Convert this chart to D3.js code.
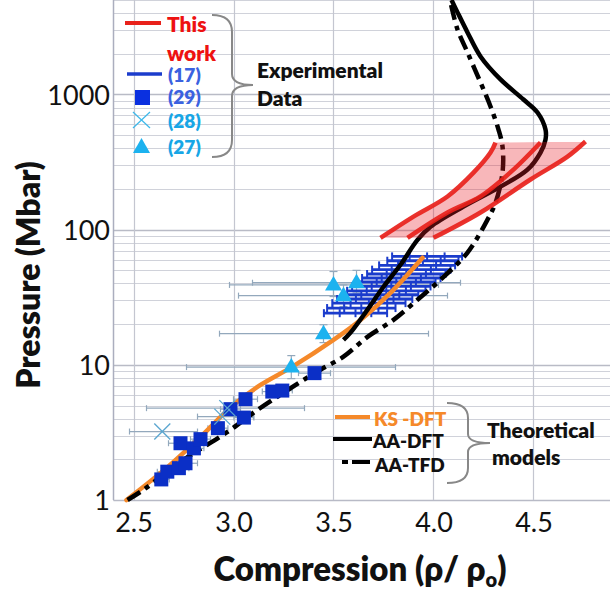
<!DOCTYPE html>
<html><head><meta charset="utf-8">
<script src="https://cdn.jsdelivr.net/npm/d3@7"></script>
<style>body{margin:0;background:#fff}svg{display:block}text{font-family:Lato,"Open Sans",sans-serif}</style>
</head><body>
<svg id="chart" width="610" height="592"></svg>
<script>
// ---- data ----
const xTicks = [2.5, 3.0, 3.5, 4.0, 4.5];
const yTicks = [1, 10, 100, 1000];

const ksV = [2.465, 2.67, 2.835, 3.0, 3.135, 3.295, 3.5, 3.635, 3.785, 3.945];
const ksP = [1.0, 1.75, 2.93, 5.06, 7.1, 9.7, 15.3, 21.5, 34.1, 62];

const aaDftV = [3.55, 3.585, 3.67, 3.75, 3.835, 3.92, 3.985, 4.15, 4.335, 4.47, 4.535, 4.56, 4.56, 4.52, 4.45, 4.335, 4.235, 4.17, 4.12, 4.09];
const aaDftP = [15.3, 17.3, 25.6, 37.8, 55, 84, 105, 148, 208, 278, 372, 464, 550, 736, 918, 1292, 1911, 2878, 4050, 5000];

const aaTfdV = [2.47, 2.55, 2.75, 2.97, 3.12, 3.335, 3.435, 3.55, 3.67, 3.80, 3.92, 4.035, 4.17, 4.27, 4.31, 4.345, 4.345, 4.325, 4.285, 4.235, 4.17, 4.12, 4.085];
const aaTfdP = [1, 1.19, 1.98, 3.19, 4.64, 7.48, 9.2, 11.5, 16.1, 21.5, 30.3, 42.6, 67.6, 118.6, 158, 264, 412, 550, 815, 1227, 2047, 3030, 4800];

// This work: three curves bounding a band
const twLeftV = [3.735, 3.9, 4.07, 4.2, 4.285, 4.31];
const twLeftP = [87, 125, 176, 264, 372, 441];
const twMidV = [3.87, 4.07, 4.235, 4.4, 4.535];
const twMidP = [87, 134, 176, 278, 441];
const twRightV = [4.0, 4.235, 4.485, 4.67, 4.76];
const twRightP = [87, 134, 235, 347, 449];

// (17)
const s17V = [3.968, 3.947, 3.918, 3.889, 3.864, 3.839, 3.814, 3.789, 3.764, 3.734, 3.706, 3.677, 3.639, 3.61];
const s17P = [63.4, 58.9, 54.4, 50.6, 47, 43.9, 41, 38, 35.3, 33, 30.7, 28.6, 26.3, 24.1];
const s17Xerr = [0.175, 0.178, 0.19, 0.196, 0.196, 0.196, 0.196, 0.196, 0.196, 0.19, 0.188, 0.183, 0.171, 0.158];

// (29)
const s29V = [2.639, 2.669, 2.727, 2.76, 2.735, 2.802, 2.835, 2.922, 2.985, 3.052, 3.06, 3.194, 3.244, 3.405];
const s29P = [1.42, 1.62, 1.72, 1.87, 2.63, 2.41, 2.82, 3.40, 4.70, 4.07, 5.57, 6.34, 6.45, 8.68];
const s29Xerr = [0.04, 0.05, 0.05, 0.06, 0.06, 0.05, 0.05, 0.05, 0.05, 0.05, 0.06, 0.05, 0.05, 0.08];

// (28)
const s28V = [2.644, 2.944, 2.969];
const s28P = [3.21, 4.14, 4.78];
const s28Xlo = [2.48, 2.82, 2.565];
const s28Xhi = [2.82, 3.10, 3.355];

// (27)
const s27V = [3.289, 3.45, 3.5, 3.55, 3.615];
const s27P = [9.62, 17.0, 39, 32.5, 40.5];
const s27Xlo = [2.765, 2.93, 2.98, 3.025, 3.095];
const s27Xhi = [3.81, 3.975, 4.025, 4.07, 4.135];
const s27Plo = [7.9, 14.6, 32, 27, 34];
const s27Phi = [11.7, 19.8, 49, 39, 50];

// ---- scales ----
const svg = d3.select('#chart');
const x = d3.scaleLinear().domain([2.4, 4.9]).range([113.5, 613.5]);
const y = d3.scaleLog().domain([1, 5000]).range([500, 0]);

const RED = '#e8211b', ORANGE = '#f5892a', BLUE = '#1b3ccc', SQ = '#0b2fc6', CYAN = '#1cb2ef', XC = '#5aa6d0', EB = '#93a8bc';
const BOLD = 800;

// grid
const g = svg.append('g');
const minor = [];
for (let d = 1; d <= 1000; d *= 10) for (let k = 1; k <= 9; k++) { const v = d * k; if (v <= 5000) minor.push(v); }
g.selectAll('line.h').data(minor).join('line')
  .attr('x1', 113.5).attr('x2', 610).attr('y1', d => Math.round(y(d)) + 0.5).attr('y2', d => Math.round(y(d)) + 0.5)
  .attr('stroke', d => yTicks.includes(d) ? '#b9bbc6' : '#d0d2da').attr('stroke-width', d => yTicks.includes(d) ? 1.5 : 1);
g.selectAll('line.v').data(xTicks).join('line')
  .attr('x1', d => Math.round(x(d)) + 0.5).attr('x2', d => Math.round(x(d)) + 0.5).attr('y1', 0).attr('y2', 500)
  .attr('stroke', '#c4c6d0').attr('stroke-width', 1.2);
// axes lines
g.append('line').attr('x1', 113.5).attr('x2', 113.5).attr('y1', 0).attr('y2', 500).attr('stroke', '#abaebe').attr('stroke-width', 1.5);
g.append('line').attr('x1', 113.5).attr('x2', 610).attr('y1', 500.5).attr('y2', 500.5).attr('stroke', '#b8bac6').attr('stroke-width', 1.2);

// tick labels via axes
const xAxis = d3.axisBottom(x).tickValues(xTicks).tickFormat(d3.format('.1f')).tickSize(0).tickPadding(0);
const xa = svg.append('g').attr('transform', 'translate(0,500)').call(xAxis);
xa.select('.domain').remove();
xa.selectAll('text').attr('y', 32).attr('dy', 0).attr('font-size', 27).attr('fill', '#111').style('font-family', 'Lato,sans-serif');
const yAxis = d3.axisLeft(y).tickValues(yTicks).tickFormat(d3.format('d')).tickSize(0).tickPadding(0);
const ya = svg.append('g').attr('transform', 'translate(110,0)').call(yAxis);
ya.select('.domain').remove();
ya.selectAll('text').attr('x', 0).attr('dy', '0.36em').attr('font-size', 27).attr('fill', '#111').style('font-family', 'Lato,sans-serif');

// axis titles
svg.append('text').attr('transform', 'translate(40,275) rotate(-90)').attr('text-anchor', 'middle')
  .attr('font-size', 32).attr('font-weight', BOLD).attr('fill', '#111').text('Pressure (Mbar)');
const xt = svg.append('text').attr('x', 360).attr('y', 581).attr('text-anchor', 'middle')
  .attr('font-size', 33).attr('font-weight', BOLD).attr('fill', '#111');
xt.append('tspan').text('Compression (ρ/ ρ');
xt.append('tspan').attr('font-size', 20).attr('dy', 6).text('o');
xt.append('tspan').attr('dy', -6).text(')');

// error bars (gray)
const eb = svg.append('g').attr('stroke', EB).attr('stroke-width', 1.2).attr('fill', 'none');
function hbar(g, x1, x2, yy, cap) {
  g.append('line').attr('x1', x1).attr('x2', x2).attr('y1', yy).attr('y2', yy);
  g.append('line').attr('x1', x1).attr('x2', x1).attr('y1', yy - cap).attr('y2', yy + cap);
  g.append('line').attr('x1', x2).attr('x2', x2).attr('y1', yy - cap).attr('y2', yy + cap);
}
s27V.forEach((v, i) => {
  hbar(eb, x(s27Xlo[i]), x(s27Xhi[i]), y(s27P[i]), 3);
  eb.append('line').attr('x1', x(v)).attr('x2', x(v)).attr('y1', y(s27Plo[i])).attr('y2', y(s27Phi[i]));
  eb.append('line').attr('x1', x(v) - 4).attr('x2', x(v) + 4).attr('y1', y(s27Phi[i])).attr('y2', y(s27Phi[i]));
  eb.append('line').attr('x1', x(v) - 4).attr('x2', x(v) + 4).attr('y1', y(s27Plo[i])).attr('y2', y(s27Plo[i]));
});
s28V.forEach((v, i) => hbar(eb, x(s28Xlo[i]), x(s28Xhi[i]), y(s28P[i]), 3));
s29V.forEach((v, i) => hbar(eb, x(v - s29Xerr[i]), x(v + s29Xerr[i]), y(s29P[i]), 3));

// (17) stack
const st = svg.append('g').attr('stroke', BLUE).attr('fill', 'none');
s17V.forEach((v, i) => {
  const yy = y(s17P[i]), x1 = x(v - s17Xerr[i]), x2 = x(v + s17Xerr[i]);
  st.append('line').attr('x1', x1).attr('x2', x2).attr('y1', yy).attr('y2', yy).attr('stroke-width', 2.8);
  [x1, x2, x(v), x(v - s17Xerr[i] / 2), x(v + s17Xerr[i] / 2)].forEach(xx =>
    st.append('line').attr('x1', xx).attr('x2', xx).attr('y1', yy - 4).attr('y2', yy + 4).attr('stroke-width', 2));
});

// theory curves
const line = d3.line().x(d => x(d[0])).y(d => y(d[1])).curve(d3.curveCatmullRom.alpha(0.5));
const zip = (a, b) => a.map((v, i) => [v, b[i]]);
svg.append('path').attr('d', line(zip(ksV, ksP))).attr('stroke', ORANGE).attr('stroke-width', 4.5).attr('fill', 'none').attr('stroke-linecap', 'round');
svg.append('path').attr('d', line(zip(aaTfdV, aaTfdP))).attr('stroke', '#000').attr('stroke-width', 4.5).attr('fill', 'none').attr('stroke-dasharray', '15,6,5,6');
svg.append('path').attr('d', line(zip(aaDftV, aaDftP))).attr('stroke', '#000').attr('stroke-width', 4.5).attr('fill', 'none');

// this work band
const left = zip(twLeftV, twLeftP), mid = zip(twMidV, twMidP), right = zip(twRightV, twRightP);
const band = line(left) + 'L' + line(right.slice().reverse()).slice(1) + 'Z';
svg.append('path').attr('d', band).attr('fill', 'rgba(232,30,40,0.32)').attr('stroke', 'none');
[left, mid, right].forEach(c => svg.append('path').attr('d', line(c)).attr('stroke', RED).attr('stroke-width', 4.5).attr('fill', 'none').attr('stroke-opacity', 0.92));

// squares
svg.append('g').selectAll('rect').data(zip(s29V, s29P)).join('rect')
  .attr('x', d => x(d[0]) - 7).attr('y', d => y(d[1]) - 7).attr('width', 14).attr('height', 14).attr('fill', SQ);
// crosses
const cr = svg.append('g').attr('stroke', XC).attr('stroke-width', 1.3);
zip(s28V, s28P).forEach(d => {
  const cx = x(d[0]), cy = y(d[1]);
  cr.append('line').attr('x1', cx - 8).attr('x2', cx + 8).attr('y1', cy - 8).attr('y2', cy + 8);
  cr.append('line').attr('x1', cx - 8).attr('x2', cx + 8).attr('y1', cy + 8).attr('y2', cy - 8);
});
// triangles
svg.append('g').selectAll('path').data(zip(s27V, s27P)).join('path')
  .attr('d', d => { const cx = x(d[0]), cy = y(d[1]); return `M${cx},${cy - 9}L${cx + 8.5},${cy + 5.5}L${cx - 8.5},${cy + 5.5}Z`; })
  .attr('fill', CYAN);

// ---- legends ----
const L = svg.append('g');
L.append('line').attr('x1', 125).attr('x2', 161).attr('y1', 23).attr('y2', 23).attr('stroke', RED).attr('stroke-width', 4);
L.append('text').attr('x', 167).attr('y', 32).attr('font-size', 21).attr('font-weight', BOLD).attr('fill', '#ee1111').text('This');
L.append('text').attr('x', 167).attr('y', 61).attr('font-size', 21).attr('font-weight', BOLD).attr('fill', '#ee1111').text('work');
L.append('line').attr('x1', 127).attr('x2', 162).attr('y1', 74).attr('y2', 74).attr('stroke', BLUE).attr('stroke-width', 3.5);
L.append('rect').attr('x', 135).attr('y', 90).attr('width', 15).attr('height', 15).attr('fill', '#0a30e0');
L.append('line').attr('x1', 133).attr('x2', 150).attr('y1', 112).attr('y2', 128).attr('stroke', '#3cb8ea').attr('stroke-width', 1.2);
L.append('line').attr('x1', 133).attr('x2', 150).attr('y1', 128).attr('y2', 112).attr('stroke', '#3cb8ea').attr('stroke-width', 1.2);
L.append('path').attr('d', 'M141.5,138L150,153L133,153Z').attr('fill', CYAN);
[['(17)', 82, '#3b62e0'], ['(29)', 104, '#3b62e0'], ['(28)', 128, '#17a6e6'], ['(27)', 154, '#17a6e6']].forEach(t =>
  L.append('text').attr('x', 168).attr('y', t[1]).attr('font-size', 19).attr('font-weight', BOLD).attr('fill', t[2]).text(t[0]));
L.append('path').attr('d', 'M212,15 Q232,15 232,32 L232,74 Q232,85 253,85 Q232,85 232,96 L232,140 Q232,157 212,157')
  .attr('stroke', '#888').attr('stroke-width', 2).attr('fill', 'none');
L.append('text').attr('x', 257).attr('y', 78).attr('font-size', 21).attr('font-weight', BOLD).attr('fill', '#111').text('Experimental');
L.append('text').attr('x', 257).attr('y', 106).attr('font-size', 21).attr('font-weight', BOLD).attr('fill', '#111').text('Data');

const T = svg.append('g');
T.append('line').attr('x1', 335).attr('x2', 370).attr('y1', 417).attr('y2', 417).attr('stroke', ORANGE).attr('stroke-width', 4);
T.append('line').attr('x1', 333).attr('x2', 372).attr('y1', 439).attr('y2', 439).attr('stroke', '#000').attr('stroke-width', 4);
T.append('line').attr('x1', 342).attr('x2', 348).attr('y1', 462).attr('y2', 462).attr('stroke', '#000').attr('stroke-width', 4);
T.append('line').attr('x1', 352).attr('x2', 370).attr('y1', 462).attr('y2', 462).attr('stroke', '#000').attr('stroke-width', 4);
T.append('text').attr('x', 374).attr('y', 426).attr('font-size', 19).attr('font-weight', BOLD).attr('fill', ORANGE).text('KS -DFT');
T.append('text').attr('x', 373).attr('y', 448).attr('font-size', 19).attr('font-weight', BOLD).attr('fill', '#111').text('AA-DFT');
T.append('text').attr('x', 375).attr('y', 472).attr('font-size', 19).attr('font-weight', BOLD).attr('fill', '#111').text('AA-TFD');
T.append('path').attr('d', 'M447,403 Q468,403 468,418 L468,434 Q468,443 490,443 Q468,443 468,452 L468,468 Q468,483 447,483')
  .attr('stroke', '#888').attr('stroke-width', 2).attr('fill', 'none');
T.append('text').attr('x', 487).attr('y', 438).attr('font-size', 21).attr('font-weight', BOLD).attr('fill', '#111').text('Theoretical');
T.append('text').attr('x', 492).attr('y', 465).attr('font-size', 21).attr('font-weight', BOLD).attr('fill', '#111').text('models');
</script>
</body></html>
